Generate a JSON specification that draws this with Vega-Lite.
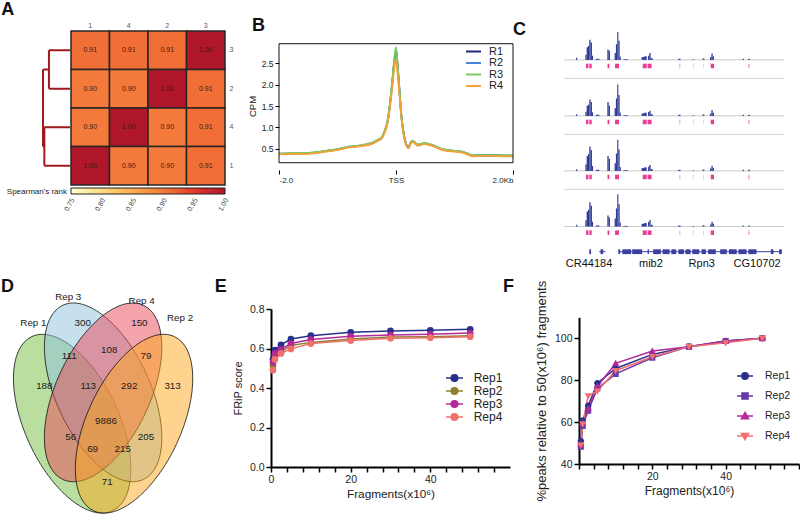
{
"$schema":"https://vega.github.io/schema/vega-lite/v6.json",
"width":800,"height":514,"autosize":{"type":"none"},"padding":0,"background":"white",
"config":{"font":"Liberation Sans","view":{"stroke":null},"axis":{"grid":false,"labelFlush":false,"labelOverlap":false,"titleFontWeight":"normal"}},
"resolve":{"scale":{"x":"independent","y":"independent","color":"independent","fill":"independent","stroke":"independent","shape":"independent"},"axis":{"x":"independent","y":"independent"},"legend":{"color":"independent","fill":"independent","stroke":"independent","shape":"independent"}},
"datasets":{
"hm":[{"r":"3","c":"1","v":0.91},{"r":"3","c":"4","v":0.91},{"r":"3","c":"2","v":0.91},{"r":"3","c":"3","v":1.0},
{"r":"2","c":"1","v":0.90},{"r":"2","c":"4","v":0.90},{"r":"2","c":"2","v":1.0},{"r":"2","c":"3","v":0.91},
{"r":"4","c":"1","v":0.90},{"r":"4","c":"4","v":1.0},{"r":"4","c":"2","v":0.90},{"r":"4","c":"3","v":0.91},
{"r":"1","c":"1","v":1.0},{"r":"1","c":"4","v":0.90},{"r":"1","c":"2","v":0.90},{"r":"1","c":"3","v":0.91}],
"cbticks":[{"t":0.75},{"t":0.8},{"t":0.85},{"t":0.9},{"t":0.95},{"t":1.0}],
"dendro":[{"x1":0,"x2":0.78,"y1":0,"y2":0},{"x1":0,"x2":0.78,"y1":1,"y2":1},{"x1":0.78,"x2":0.78,"y1":0,"y2":1},
{"x1":0,"x2":0.95,"y1":2,"y2":2},{"x1":0,"x2":0.95,"y1":3,"y2":3},{"x1":0.95,"x2":0.95,"y1":2,"y2":3},
{"x1":0.78,"x2":1,"y1":0.5,"y2":0.5},{"x1":0.95,"x2":1,"y1":2.5,"y2":2.5},{"x1":1,"x2":1,"y1":0.5,"y2":2.5}],
"prof":[
{"pos":-2000,"R1":0.38,"R2":0.385,"R3":0.39,"R4":0.37},
{"pos":-1900,"R1":0.38,"R2":0.385,"R3":0.39,"R4":0.37},
{"pos":-1800,"R1":0.39,"R2":0.395,"R3":0.40,"R4":0.38},
{"pos":-1700,"R1":0.39,"R2":0.395,"R3":0.40,"R4":0.38},
{"pos":-1600,"R1":0.39,"R2":0.395,"R3":0.40,"R4":0.38},
{"pos":-1500,"R1":0.39,"R2":0.395,"R3":0.40,"R4":0.38},
{"pos":-1400,"R1":0.40,"R2":0.405,"R3":0.41,"R4":0.39},
{"pos":-1300,"R1":0.42,"R2":0.425,"R3":0.43,"R4":0.41},
{"pos":-1200,"R1":0.44,"R2":0.445,"R3":0.45,"R4":0.43},
{"pos":-1100,"R1":0.46,"R2":0.465,"R3":0.47,"R4":0.45},
{"pos":-1000,"R1":0.48,"R2":0.485,"R3":0.49,"R4":0.47},
{"pos":-900,"R1":0.51,"R2":0.515,"R3":0.52,"R4":0.50},
{"pos":-800,"R1":0.54,"R2":0.545,"R3":0.55,"R4":0.53},
{"pos":-700,"R1":0.55,"R2":0.555,"R3":0.56,"R4":0.54},
{"pos":-600,"R1":0.57,"R2":0.575,"R3":0.58,"R4":0.56},
{"pos":-500,"R1":0.59,"R2":0.595,"R3":0.61,"R4":0.58},
{"pos":-400,"R1":0.63,"R2":0.635,"R3":0.65,"R4":0.62},
{"pos":-300,"R1":0.70,"R2":0.705,"R3":0.72,"R4":0.69},
{"pos":-250,"R1":0.74,"R2":0.745,"R3":0.76,"R4":0.73},
{"pos":-200,"R1":0.88,"R2":0.885,"R3":0.90,"R4":0.86},
{"pos":-150,"R1":1.10,"R2":1.10,"R3":1.12,"R4":1.07},
{"pos":-120,"R1":1.35,"R2":1.35,"R3":1.38,"R4":1.30},
{"pos":-90,"R1":1.70,"R2":1.70,"R3":1.74,"R4":1.62},
{"pos":-60,"R1":2.10,"R2":2.09,"R3":2.15,"R4":1.98},
{"pos":-30,"R1":2.55,"R2":2.53,"R3":2.60,"R4":2.38},
{"pos":0,"R1":2.83,"R2":2.80,"R3":2.88,"R4":2.60},
{"pos":30,"R1":2.40,"R2":2.38,"R3":2.44,"R4":2.22},
{"pos":60,"R1":1.85,"R2":1.84,"R3":1.88,"R4":1.75},
{"pos":90,"R1":1.30,"R2":1.30,"R3":1.32,"R4":1.25},
{"pos":120,"R1":0.95,"R2":0.95,"R3":0.96,"R4":0.92},
{"pos":150,"R1":0.72,"R2":0.72,"R3":0.73,"R4":0.70},
{"pos":180,"R1":0.58,"R2":0.585,"R3":0.59,"R4":0.57},
{"pos":210,"R1":0.52,"R2":0.525,"R3":0.53,"R4":0.51},
{"pos":240,"R1":0.60,"R2":0.605,"R3":0.61,"R4":0.59},
{"pos":270,"R1":0.67,"R2":0.675,"R3":0.69,"R4":0.66},
{"pos":300,"R1":0.66,"R2":0.665,"R3":0.68,"R4":0.65},
{"pos":340,"R1":0.61,"R2":0.615,"R3":0.63,"R4":0.60},
{"pos":380,"R1":0.58,"R2":0.585,"R3":0.60,"R4":0.57},
{"pos":430,"R1":0.60,"R2":0.605,"R3":0.62,"R4":0.59},
{"pos":490,"R1":0.62,"R2":0.625,"R3":0.64,"R4":0.61},
{"pos":550,"R1":0.60,"R2":0.605,"R3":0.62,"R4":0.59},
{"pos":640,"R1":0.57,"R2":0.575,"R3":0.58,"R4":0.56},
{"pos":750,"R1":0.50,"R2":0.51,"R3":0.51,"R4":0.49},
{"pos":870,"R1":0.46,"R2":0.47,"R3":0.47,"R4":0.45},
{"pos":1000,"R1":0.44,"R2":0.45,"R3":0.45,"R4":0.43},
{"pos":1090,"R1":0.43,"R2":0.44,"R3":0.44,"R4":0.42},
{"pos":1200,"R1":0.39,"R2":0.40,"R3":0.40,"R4":0.38},
{"pos":1320,"R1":0.33,"R2":0.345,"R3":0.34,"R4":0.32},
{"pos":1450,"R1":0.34,"R2":0.355,"R3":0.35,"R4":0.33},
{"pos":1550,"R1":0.34,"R2":0.355,"R3":0.35,"R4":0.33},
{"pos":1700,"R1":0.34,"R2":0.355,"R3":0.35,"R4":0.33},
{"pos":1850,"R1":0.33,"R2":0.345,"R3":0.34,"R4":0.32},
{"pos":2000,"R1":0.33,"R2":0.345,"R3":0.34,"R4":0.32}],
"cov":[
{"t":1,"s":5.5,"e":6.0,"v":0.06},{"t":1,"s":9.7,"e":10.3,"v":0.15},{"t":1,"s":10.3,"e":10.9,"v":0.36},{"t":1,"s":10.9,"e":11.5,"v":0.40},{"t":1,"s":11.5,"e":12.1,"v":0.58},{"t":1,"s":12.1,"e":12.7,"v":0.50},{"t":1,"s":12.7,"e":13.2,"v":0.12},{"t":1,"s":14.5,"e":16.1,"v":0.03},{"t":1,"s":19.7,"e":20.3,"v":0.30},{"t":1,"s":20.3,"e":20.9,"v":0.26},{"t":1,"s":23.0,"e":23.6,"v":0.20},{"t":1,"s":23.6,"e":24.2,"v":0.45},{"t":1,"s":24.2,"e":24.7,"v":0.80},{"t":1,"s":24.7,"e":25.3,"v":0.55},{"t":1,"s":25.3,"e":25.8,"v":0.10},{"t":1,"s":27.0,"e":29.0,"v":0.02},{"t":1,"s":35.3,"e":36.4,"v":0.08},{"t":1,"s":36.4,"e":37.6,"v":0.10},{"t":1,"s":38.2,"e":38.8,"v":0.12},{"t":1,"s":38.8,"e":39.4,"v":0.20},{"t":1,"s":39.4,"e":40.3,"v":0.05},{"t":1,"s":51.8,"e":53.0,"v":0.03},{"t":1,"s":58.5,"e":59.1,"v":0.02},{"t":1,"s":63.0,"e":63.8,"v":0.04},{"t":1,"s":66.4,"e":67.0,"v":0.08},{"t":1,"s":67.0,"e":67.6,"v":0.18},{"t":1,"s":67.6,"e":68.2,"v":0.10},{"t":1,"s":81.2,"e":81.8,"v":0.03},{"t":1,"s":83.8,"e":84.5,"v":0.03},
{"t":2,"s":5.5,"e":6.0,"v":0.05},{"t":2,"s":9.7,"e":10.3,"v":0.12},{"t":2,"s":10.3,"e":10.9,"v":0.29},{"t":2,"s":10.9,"e":11.5,"v":0.32},{"t":2,"s":11.5,"e":12.1,"v":0.47},{"t":2,"s":12.1,"e":12.7,"v":0.40},{"t":2,"s":12.7,"e":13.2,"v":0.10},{"t":2,"s":14.5,"e":16.1,"v":0.03},{"t":2,"s":19.7,"e":20.3,"v":0.40},{"t":2,"s":20.3,"e":20.9,"v":0.30},{"t":2,"s":23.0,"e":23.6,"v":0.22},{"t":2,"s":23.6,"e":24.2,"v":0.50},{"t":2,"s":24.2,"e":24.7,"v":0.90},{"t":2,"s":24.7,"e":25.3,"v":0.60},{"t":2,"s":25.3,"e":25.8,"v":0.10},{"t":2,"s":27.0,"e":29.0,"v":0.02},{"t":2,"s":35.3,"e":36.4,"v":0.07},{"t":2,"s":36.4,"e":37.6,"v":0.09},{"t":2,"s":38.2,"e":38.8,"v":0.11},{"t":2,"s":38.8,"e":39.4,"v":0.15},{"t":2,"s":39.4,"e":40.3,"v":0.05},{"t":2,"s":51.8,"e":53.0,"v":0.03},{"t":2,"s":58.5,"e":59.1,"v":0.02},{"t":2,"s":63.0,"e":63.8,"v":0.04},{"t":2,"s":66.4,"e":67.0,"v":0.07},{"t":2,"s":67.0,"e":67.6,"v":0.17},{"t":2,"s":67.6,"e":68.2,"v":0.09},{"t":2,"s":81.2,"e":81.8,"v":0.03},{"t":2,"s":83.8,"e":84.5,"v":0.03},
{"t":3,"s":5.5,"e":6.0,"v":0.05},{"t":3,"s":9.7,"e":10.3,"v":0.18},{"t":3,"s":10.3,"e":10.9,"v":0.43},{"t":3,"s":10.9,"e":11.5,"v":0.48},{"t":3,"s":11.5,"e":12.1,"v":0.70},{"t":3,"s":12.1,"e":12.7,"v":0.60},{"t":3,"s":12.7,"e":13.2,"v":0.14},{"t":3,"s":14.5,"e":16.1,"v":0.03},{"t":3,"s":19.7,"e":20.3,"v":0.43},{"t":3,"s":20.3,"e":20.9,"v":0.35},{"t":3,"s":23.0,"e":23.6,"v":0.22},{"t":3,"s":23.6,"e":24.2,"v":0.50},{"t":3,"s":24.2,"e":24.7,"v":0.89},{"t":3,"s":24.7,"e":25.3,"v":0.61},{"t":3,"s":25.3,"e":25.8,"v":0.11},{"t":3,"s":27.0,"e":29.0,"v":0.02},{"t":3,"s":35.3,"e":36.4,"v":0.08},{"t":3,"s":36.4,"e":37.6,"v":0.10},{"t":3,"s":38.2,"e":38.8,"v":0.12},{"t":3,"s":38.8,"e":39.4,"v":0.17},{"t":3,"s":39.4,"e":40.3,"v":0.05},{"t":3,"s":51.8,"e":53.0,"v":0.03},{"t":3,"s":58.5,"e":59.1,"v":0.02},{"t":3,"s":63.0,"e":63.8,"v":0.04},{"t":3,"s":66.4,"e":67.0,"v":0.07},{"t":3,"s":67.0,"e":67.6,"v":0.15},{"t":3,"s":67.6,"e":68.2,"v":0.08},{"t":3,"s":81.2,"e":81.8,"v":0.03},{"t":3,"s":83.8,"e":84.5,"v":0.03},
{"t":4,"s":5.5,"e":6.0,"v":0.05},{"t":4,"s":9.7,"e":10.3,"v":0.18},{"t":4,"s":10.3,"e":10.9,"v":0.43},{"t":4,"s":10.9,"e":11.5,"v":0.48},{"t":4,"s":11.5,"e":12.1,"v":0.70},{"t":4,"s":12.1,"e":12.7,"v":0.60},{"t":4,"s":12.7,"e":13.2,"v":0.14},{"t":4,"s":14.5,"e":16.1,"v":0.03},{"t":4,"s":19.7,"e":20.3,"v":0.32},{"t":4,"s":20.3,"e":20.9,"v":0.26},{"t":4,"s":23.0,"e":23.6,"v":0.23},{"t":4,"s":23.6,"e":24.2,"v":0.52},{"t":4,"s":24.2,"e":24.7,"v":0.93},{"t":4,"s":24.7,"e":25.3,"v":0.64},{"t":4,"s":25.3,"e":25.8,"v":0.12},{"t":4,"s":27.0,"e":29.0,"v":0.02},{"t":4,"s":35.3,"e":36.4,"v":0.08},{"t":4,"s":36.4,"e":37.6,"v":0.10},{"t":4,"s":38.2,"e":38.8,"v":0.13},{"t":4,"s":38.8,"e":39.4,"v":0.19},{"t":4,"s":39.4,"e":40.3,"v":0.05},{"t":4,"s":51.8,"e":53.0,"v":0.03},{"t":4,"s":58.5,"e":59.1,"v":0.02},{"t":4,"s":63.0,"e":63.8,"v":0.04},{"t":4,"s":66.4,"e":67.0,"v":0.06},{"t":4,"s":67.0,"e":67.6,"v":0.14},{"t":4,"s":67.6,"e":68.2,"v":0.08},{"t":4,"s":81.2,"e":81.8,"v":0.03},{"t":4,"s":83.8,"e":84.5,"v":0.03}],
"peaks":[{"s":10.0,"e":11.1,"k":"s"},{"s":11.5,"e":12.6,"k":"s"},{"s":19.8,"e":20.6,"k":"s"},{"s":23.2,"e":25.0,"k":"s"},{"s":35.8,"e":37.6,"k":"s"},{"s":38.0,"e":39.8,"k":"s"},{"s":52.4,"e":52.9,"k":"w"},{"s":58.6,"e":58.9,"k":"w"},{"s":63.2,"e":63.5,"k":"w"},{"s":66.7,"e":68.2,"k":"s"},{"s":83.6,"e":84.4,"k":"w"}],
"exons":[{"s":11.5,"e":12.3},{"s":16.6,"e":17.8},{"s":24.7,"e":25.5},{"s":26.5,"e":30.5},{"s":31,"e":35.5},{"s":38,"e":38.6},{"s":40.5,"e":44},{"s":44.8,"e":48},{"s":48.8,"e":51},{"s":52,"e":54.5},{"s":55.2,"e":57.5},{"s":58.3,"e":61.5},{"s":62.5,"e":64.5},{"s":65.5,"e":69},{"s":71,"e":74},{"s":75,"e":78.5},{"s":79.3,"e":83},{"s":83.8,"e":87.5},{"s":94,"e":95.2},{"s":97.8,"e":99}],
"introns":[{"s":16.0,"e":18.8},{"s":24.7,"e":99}],
"genes":[{"g":"CR44184","p":11.4},{"g":"mib2","p":39.5},{"g":"Rpn3","p":62.6},{"g":"CG10702","p":87.8}],
"venn":[{"set":"Rep 1","cx":0.35,"cy":0.47},{"set":"Rep 3","cx":0.5,"cy":0.57},{"set":"Rep 4","cx":0.5,"cy":0.57},{"set":"Rep 2","cx":0.65,"cy":0.47}],
"vlab":[{"t":"Rep 1","u":0.162,"v":0.792},{"t":"Rep 3","u":0.331,"v":0.875},{"t":"Rep 4","u":0.687,"v":0.862},{"t":"Rep 2","u":0.873,"v":0.806},
{"t":"300","u":0.401,"v":0.790},{"t":"150","u":0.676,"v":0.790},{"t":"111","u":0.336,"v":0.687},{"t":"108","u":0.530,"v":0.705},{"t":"79","u":0.708,"v":0.687},
{"t":"188","u":0.215,"v":0.590},{"t":"113","u":0.428,"v":0.590},{"t":"292","u":0.627,"v":0.590},{"t":"313","u":0.837,"v":0.590},
{"t":"9886","u":0.514,"v":0.480},{"t":"56","u":0.343,"v":0.429},{"t":"205","u":0.708,"v":0.429},{"t":"69","u":0.449,"v":0.388},{"t":"215","u":0.595,"v":0.388},{"t":"71","u":0.520,"v":0.285}],
"frip":[
{"rep":"Rep1","x":0.5,"v":0.545},{"rep":"Rep1","x":1,"v":0.592},{"rep":"Rep1","x":2.5,"v":0.618},{"rep":"Rep1","x":5,"v":0.648},{"rep":"Rep1","x":10,"v":0.665},{"rep":"Rep1","x":20,"v":0.682},{"rep":"Rep1","x":30,"v":0.689},{"rep":"Rep1","x":40,"v":0.692},{"rep":"Rep1","x":50,"v":0.697},
{"rep":"Rep2","x":0.5,"v":0.513},{"rep":"Rep2","x":1,"v":0.565},{"rep":"Rep2","x":2.5,"v":0.584},{"rep":"Rep2","x":5,"v":0.615},{"rep":"Rep2","x":10,"v":0.631},{"rep":"Rep2","x":20,"v":0.648},{"rep":"Rep2","x":30,"v":0.658},{"rep":"Rep2","x":40,"v":0.660},{"rep":"Rep2","x":50,"v":0.665},
{"rep":"Rep3","x":0.5,"v":0.530},{"rep":"Rep3","x":1,"v":0.575},{"rep":"Rep3","x":2.5,"v":0.595},{"rep":"Rep3","x":5,"v":0.625},{"rep":"Rep3","x":10,"v":0.645},{"rep":"Rep3","x":20,"v":0.662},{"rep":"Rep3","x":30,"v":0.668},{"rep":"Rep3","x":40,"v":0.672},{"rep":"Rep3","x":50,"v":0.678},
{"rep":"Rep4","x":0.5,"v":0.490},{"rep":"Rep4","x":1,"v":0.545},{"rep":"Rep4","x":2.5,"v":0.575},{"rep":"Rep4","x":5,"v":0.598},{"rep":"Rep4","x":10,"v":0.625},{"rep":"Rep4","x":20,"v":0.640},{"rep":"Rep4","x":30,"v":0.652},{"rep":"Rep4","x":40,"v":0.655},{"rep":"Rep4","x":50,"v":0.660}],
"pk":[
{"rep":"Rep1","x":0.5,"v":51.0},{"rep":"Rep1","x":1,"v":60.8},{"rep":"Rep1","x":2.5,"v":67.8},{"rep":"Rep1","x":5,"v":78.6},{"rep":"Rep1","x":10,"v":85.6},{"rep":"Rep1","x":20,"v":92.3},{"rep":"Rep1","x":30,"v":96.0},{"rep":"Rep1","x":40,"v":98.7},{"rep":"Rep1","x":50,"v":100},
{"rep":"Rep2","x":0.5,"v":48.3},{"rep":"Rep2","x":1,"v":58.2},{"rep":"Rep2","x":2.5,"v":65.4},{"rep":"Rep2","x":5,"v":76.0},{"rep":"Rep2","x":10,"v":83.0},{"rep":"Rep2","x":20,"v":90.7},{"rep":"Rep2","x":30,"v":96.0},{"rep":"Rep2","x":40,"v":98.7},{"rep":"Rep2","x":50,"v":100},
{"rep":"Rep3","x":0.5,"v":49.5},{"rep":"Rep3","x":1,"v":59.5},{"rep":"Rep3","x":2.5,"v":66.5},{"rep":"Rep3","x":5,"v":77.0},{"rep":"Rep3","x":10,"v":88.0},{"rep":"Rep3","x":20,"v":93.9},{"rep":"Rep3","x":30,"v":96.0},{"rep":"Rep3","x":40,"v":98.5},{"rep":"Rep3","x":50,"v":100},
{"rep":"Rep4","x":0.5,"v":49.0},{"rep":"Rep4","x":1,"v":59.0},{"rep":"Rep4","x":2.5,"v":72.5},{"rep":"Rep4","x":5,"v":74.8},{"rep":"Rep4","x":10,"v":84.5},{"rep":"Rep4","x":20,"v":91.2},{"rep":"Rep4","x":30,"v":96.0},{"rep":"Rep4","x":40,"v":97.8},{"rep":"Rep4","x":50,"v":100}]
},
"layer":[
{"data":{"name":"hm"},"layer":[
 {"mark":{"type":"rect","stroke":"#262626","strokeWidth":1.5},
  "encoding":{
   "x":{"field":"c","type":"ordinal","scale":{"type":"band","domain":["1","4","2","3"],"range":[71,225],"paddingInner":0,"paddingOuter":0},"axis":{"orient":"top","offset":-31,"title":null,"ticks":false,"domain":false,"labelAngle":0,"labelFontSize":7,"labelColor":"#555","labelPadding":3}},
   "y":{"field":"r","type":"ordinal","scale":{"type":"band","domain":["3","2","4","1"],"range":[31,185],"paddingInner":0,"paddingOuter":0},"axis":{"orient":"right","offset":-575,"title":null,"ticks":false,"domain":false,"labelAngle":0,"labelFontSize":7,"labelColor":"#555","labelPadding":4}},
   "color":{"field":"v","type":"quantitative","scale":{"domain":[0.75,0.8,0.85,0.9,0.95,1.0],"range":["#ffffcc","#fedc82","#fdab4c","#f47a3b","#e4332a","#b0172a"]},
     "legend":{"orient":"none","legendX":71,"legendY":188,"direction":"horizontal","title":null,"gradientLength":154,"gradientThickness":6,"gradientStrokeColor":"#222","gradientStrokeWidth":1,"values":[0.75,0.8,0.85,0.9,0.95,1.0],"labelOpacity":0,"labelFontSize":7,"padding":0}}
  }},
 {"mark":{"type":"text","fontSize":7,"color":"#3a1c10"},
  "encoding":{"x":{"field":"c","type":"ordinal"},"y":{"field":"r","type":"ordinal"},"text":{"field":"v","type":"quantitative","format":".2f"}}}
]},
{"data":{"name":"cbticks"},"mark":{"type":"text","fontSize":7,"color":"#444","angle":-60,"align":"right","baseline":"middle"},
 "encoding":{"x":{"field":"t","type":"quantitative","scale":{"domain":[0.75,1],"range":[73,227]},"axis":null},"y":{"datum":0,"type":"quantitative","scale":{"domain":[0,1],"range":[199,189]},"axis":null},"text":{"field":"t","type":"quantitative","format":".2f"}}},
{"layer":[
 {"data":{"name":"dendro"},"mark":{"type":"rule","color":"#a0191d","strokeWidth":2},
  "encoding":{"x":{"field":"x1","type":"quantitative","scale":{"domain":[0,1],"range":[70,43]},"axis":null},"x2":{"field":"x2"},
   "y":{"field":"y1","type":"quantitative","scale":{"domain":[-0.5,3.5],"range":[31,185]},"axis":null},"y2":{"field":"y2"}}},
 {"data":{"values":[{"t":"A"}]},"mark":{"type":"text","fontSize":18,"fontWeight":"bold","align":"left","baseline":"alphabetic","color":"#111"},
  "encoding":{"x":{"datum":2.55,"type":"quantitative"},"y":{"datum":-0.916,"type":"quantitative"},"text":{"field":"t"}}},
 {"data":{"values":[{"t":"Spearman's rank"}]},"mark":{"type":"text","fontSize":8,"align":"right","baseline":"middle","color":"#222"},
  "encoding":{"x":{"datum":0.11,"type":"quantitative"},"y":{"datum":3.67,"type":"quantitative"},"text":{"field":"t"}}}
]},
{"layer":[
 {"data":{"name":"prof"},"transform":[{"fold":["R1","R2","R3","R4"],"as":["rep","cpm"]}],
  "mark":{"type":"line","strokeWidth":1.8,"interpolate":"monotone"},
  "encoding":{
   "x":{"field":"pos","type":"quantitative","scale":{"domain":[-2000,2000],"range":[279,513]},"axis":{"orient":"bottom","offset":-344,"values":[-2000,0,2000],"labelExpr":"datum.value == 0 ? 'TSS' : (datum.value < 0 ? '-2.0' : '2.0Kb')","labelFlush":true,"title":null,"tickSize":4,"tickColor":"#000","labelFontSize":8,"labelColor":"#222","domain":false}},
   "y":{"field":"cpm","type":"quantitative","scale":{"domain":[0.17,2.96],"range":[170,42]},"axis":{"orient":"left","offset":-279,"values":[0.5,1,1.5,2,2.5],"format":".1f","title":"CPM","titleFontSize":9.5,"titleColor":"#222","titlePadding":4,"tickSize":4,"tickColor":"#000","labelFontSize":8.5,"labelColor":"#222","domain":false}},
   "color":{"field":"rep","type":"nominal","scale":{"domain":["R1","R2","R3","R4"],"range":["#1c2a7e","#4a86d0","#7fc865","#f6a232"]},
     "legend":{"orient":"none","legendX":465,"legendY":47,"title":null,"symbolType":"stroke","symbolStrokeWidth":2,"symbolSize":225,"labelFontSize":11,"labelColor":"#222","clipHeight":9,"rowPadding":-0.5,"padding":0,"labelOffset":7}}
  }},
 {"data":{"values":[{}]},"mark":{"type":"rect","fill":"transparent","stroke":"#111","strokeWidth":1},
  "encoding":{"x":{"datum":-2000,"type":"quantitative"},"x2":{"datum":2000},"y":{"datum":0.17,"type":"quantitative"},"y2":{"datum":2.96}}},
 {"data":{"values":[{"t":"B"}]},"mark":{"type":"text","fontSize":18,"fontWeight":"bold","align":"left","baseline":"alphabetic","color":"#111"},
  "encoding":{"x":{"datum":-2461,"type":"quantitative"},"y":{"datum":3.259,"type":"quantitative"},"text":{"field":"t"}}}
]},
{"layer":[
 {"data":{"values":[{}]},"mark":{"type":"rule","color":"#c8c8c8","strokeWidth":1},
  "encoding":{"x":{"datum":0,"type":"quantitative","scale":{"domain":[0,100],"range":[564,784]},"axis":null},"x2":{"datum":100},"y":{"datum":0,"type":"quantitative","scale":{"domain":[-0.55,1],"range":[80.8,25]},"axis":null}}},
 {"data":{"values":[{}]},"mark":{"type":"rule","color":"#d4d4d4","strokeWidth":1},
  "encoding":{"x":{"datum":0,"type":"quantitative"},"x2":{"datum":100},"y":{"datum":-0.53,"type":"quantitative"}}},
 {"data":{"name":"cov"},"transform":[{"filter":"datum.t == 1"}],"mark":{"type":"rect","color":"#2e3a96"},
  "encoding":{"x":{"field":"s","type":"quantitative"},"x2":{"field":"e"},"y":{"field":"v","type":"quantitative"},"y2":{"datum":0}}},
 {"data":{"name":"peaks"},"mark":{"type":"rect"},
  "encoding":{"x":{"field":"s","type":"quantitative"},"x2":{"field":"e"},"y":{"datum":-0.11,"type":"quantitative"},"y2":{"datum":-0.24},"color":{"field":"k","type":"nominal","scale":{"domain":["s","w"],"range":["#ec3b90","#f6aecd"]},"legend":null}}},
 {"data":{"values":[{"t":"C"}]},"mark":{"type":"text","fontSize":18,"fontWeight":"bold","align":"left","baseline":"alphabetic","color":"#111"},
  "encoding":{"x":{"datum":-23.2,"type":"quantitative"},"y":{"datum":0.722,"type":"quantitative"},"text":{"field":"t"}}}
]},
{"layer":[
 {"data":{"values":[{}]},"mark":{"type":"rule","color":"#c8c8c8","strokeWidth":1},
  "encoding":{"x":{"datum":0,"type":"quantitative","scale":{"domain":[0,100],"range":[564,784]},"axis":null},"x2":{"datum":100},"y":{"datum":0,"type":"quantitative","scale":{"domain":[-0.55,1],"range":[136.8,81]},"axis":null}}},
 {"data":{"values":[{}]},"mark":{"type":"rule","color":"#d4d4d4","strokeWidth":1},
  "encoding":{"x":{"datum":0,"type":"quantitative"},"x2":{"datum":100},"y":{"datum":-0.53,"type":"quantitative"}}},
 {"data":{"name":"cov"},"transform":[{"filter":"datum.t == 2"}],"mark":{"type":"rect","color":"#2e3a96"},
  "encoding":{"x":{"field":"s","type":"quantitative"},"x2":{"field":"e"},"y":{"field":"v","type":"quantitative"},"y2":{"datum":0}}},
 {"data":{"name":"peaks"},"mark":{"type":"rect"},
  "encoding":{"x":{"field":"s","type":"quantitative"},"x2":{"field":"e"},"y":{"datum":-0.11,"type":"quantitative"},"y2":{"datum":-0.24},"color":{"field":"k","type":"nominal","scale":{"domain":["s","w"],"range":["#ec3b90","#f6aecd"]},"legend":null}}}
]},
{"layer":[
 {"data":{"values":[{}]},"mark":{"type":"rule","color":"#c8c8c8","strokeWidth":1},
  "encoding":{"x":{"datum":0,"type":"quantitative","scale":{"domain":[0,100],"range":[564,784]},"axis":null},"x2":{"datum":100},"y":{"datum":0,"type":"quantitative","scale":{"domain":[-0.55,1],"range":[191.8,136]},"axis":null}}},
 {"data":{"values":[{}]},"mark":{"type":"rule","color":"#d4d4d4","strokeWidth":1},
  "encoding":{"x":{"datum":0,"type":"quantitative"},"x2":{"datum":100},"y":{"datum":-0.53,"type":"quantitative"}}},
 {"data":{"name":"cov"},"transform":[{"filter":"datum.t == 3"}],"mark":{"type":"rect","color":"#2e3a96"},
  "encoding":{"x":{"field":"s","type":"quantitative"},"x2":{"field":"e"},"y":{"field":"v","type":"quantitative"},"y2":{"datum":0}}},
 {"data":{"name":"peaks"},"mark":{"type":"rect"},
  "encoding":{"x":{"field":"s","type":"quantitative"},"x2":{"field":"e"},"y":{"datum":-0.11,"type":"quantitative"},"y2":{"datum":-0.24},"color":{"field":"k","type":"nominal","scale":{"domain":["s","w"],"range":["#ec3b90","#f6aecd"]},"legend":null}}}
]},
{"layer":[
 {"data":{"values":[{}]},"mark":{"type":"rule","color":"#c8c8c8","strokeWidth":1},
  "encoding":{"x":{"datum":0,"type":"quantitative","scale":{"domain":[0,100],"range":[564,784]},"axis":null},"x2":{"datum":100},"y":{"datum":0,"type":"quantitative","scale":{"domain":[-0.55,1],"range":[247.5,191.7]},"axis":null}}},
 {"data":{"name":"cov"},"transform":[{"filter":"datum.t == 4"}],"mark":{"type":"rect","color":"#2e3a96"},
  "encoding":{"x":{"field":"s","type":"quantitative"},"x2":{"field":"e"},"y":{"field":"v","type":"quantitative"},"y2":{"datum":0}}},
 {"data":{"name":"peaks"},"mark":{"type":"rect"},
  "encoding":{"x":{"field":"s","type":"quantitative"},"x2":{"field":"e"},"y":{"datum":-0.11,"type":"quantitative"},"y2":{"datum":-0.24},"color":{"field":"k","type":"nominal","scale":{"domain":["s","w"],"range":["#ec3b90","#f6aecd"]},"legend":null}}}
]},
{"layer":[
 {"data":{"name":"introns"},"mark":{"type":"rule","color":"#3a3fa0","strokeWidth":1},
  "encoding":{"x":{"field":"s","type":"quantitative","scale":{"domain":[0,100],"range":[564,784]},"axis":null},"x2":{"field":"e"},"y":{"datum":0,"type":"quantitative","scale":{"domain":[-2,1],"range":[266.7,244.2]},"axis":null}}},
 {"data":{"name":"exons"},"mark":{"type":"rect","color":"#3a3fa0"},
  "encoding":{"x":{"field":"s","type":"quantitative"},"x2":{"field":"e"},"y":{"datum":0.32,"type":"quantitative"},"y2":{"datum":-0.32}}},
 {"data":{"name":"genes"},"mark":{"type":"text","fontSize":11,"baseline":"alphabetic","align":"center","color":"#111"},
  "encoding":{"x":{"field":"p","type":"quantitative"},"y":{"datum":-2,"type":"quantitative"},"text":{"field":"g"}}}
]},
{"layer":[
 {"data":{"name":"venn"},"transform":[{"filter":"datum.set == 'Rep 1' || datum.set == 'Rep 3'"}],
  "mark":{"type":"point","shape":"M 40.27 87.15 A 96 47.1 65.2 1 1 -40.27 -87.15 A 96 47.1 65.2 1 1 40.27 87.15 Z","size":4,"filled":true,"opacity":1,"fillOpacity":0.5,"stroke":"#111","strokeWidth":0.8,"strokeOpacity":1},
  "encoding":{"x":{"field":"cx","type":"quantitative","scale":{"domain":[0,1],"range":[0,206.2]},"axis":null},"y":{"field":"cy","type":"quantitative","scale":{"domain":[0,1],"range":[571,257.6]},"axis":null},
   "color":{"field":"set","type":"nominal","scale":{"domain":["Rep 1","Rep 3","Rep 4","Rep 2"],"range":["#73bd41","#8dc1dd","#e94755","#fba71d"]},"legend":null}}},
 {"data":{"name":"venn"},"transform":[{"filter":"datum.set == 'Rep 4' || datum.set == 'Rep 2'"}],
  "mark":{"type":"point","shape":"M -40.27 87.15 A 96 47.1 -65.2 1 1 40.27 -87.15 A 96 47.1 -65.2 1 1 -40.27 87.15 Z","size":4,"filled":true,"opacity":1,"fillOpacity":0.5,"stroke":"#111","strokeWidth":0.8,"strokeOpacity":1},
  "encoding":{"x":{"field":"cx","type":"quantitative"},"y":{"field":"cy","type":"quantitative"},"color":{"field":"set","type":"nominal"}}},
 {"data":{"name":"vlab"},"mark":{"type":"text","fontSize":9.8,"color":"#1a1a1a"},
  "encoding":{"x":{"field":"u","type":"quantitative"},"y":{"field":"v","type":"quantitative"},"text":{"field":"t"}}},
 {"data":{"values":[{"t":"D"}]},"mark":{"type":"text","fontSize":18,"fontWeight":"bold","align":"left","baseline":"alphabetic","color":"#111"},
  "encoding":{"x":{"datum":0.005,"type":"quantitative"},"y":{"datum":0.89,"type":"quantitative"},"text":{"field":"t"}}}
]},
{"layer":[
 {"data":{"name":"frip"},"mark":{"type":"line","strokeWidth":1.5},
  "encoding":{
   "x":{"field":"x","type":"quantitative","scale":{"domain":[0,58.3],"range":[271,510]},"axis":{"orient":"bottom","offset":-47,"values":[0,2,4,6,8,10,12,14,16,18,20,22,24,26,28,30,32,34,36,38,40,42,44,46,48,50,52,54,56,58],"labelExpr":"datum.value % 10 == 0 ? datum.label : ''","title":"Fragments(x10⁶)","titleFontSize":11.8,"titleColor":"#222","titlePadding":4,"tickSize":5,"tickWidth":1.5,"tickColor":"#000","domainColor":"#000","domainWidth":2,"labelFontSize":10.5,"labelColor":"#222","labelPadding":2}},
   "y":{"field":"v","type":"quantitative","scale":{"domain":[0,0.8],"range":[467,309]},"axis":{"orient":"left","offset":-271,"values":[0,0.2,0.4,0.6,0.8],"format":".1f","title":"FRiP score","titleFontSize":11,"titleColor":"#222","titlePadding":6,"tickSize":5,"tickWidth":1.5,"tickColor":"#000","domainColor":"#000","domainWidth":2,"labelFontSize":10.5,"labelColor":"#222","labelPadding":2}},
   "stroke":{"field":"rep","type":"nominal","scale":{"domain":["Rep1","Rep2","Rep3","Rep4"],"range":["#27318b","#8c8032","#b5289a","#f0706a"]},
     "legend":{"orient":"none","legendX":445,"legendY":371.5,"title":null,"symbolType":"M -1 0 L 1 0 M 0.39 0 A 0.39 0.39 0 1 1 -0.39 0 A 0.39 0.39 0 1 1 0.39 0 Z","symbolStrokeWidth":1.5,"symbolSize":289,"symbolOpacity":1,"labelFontSize":12,"labelColor":"#222","clipHeight":13,"rowPadding":0,"padding":0,"labelOffset":9.7}}
  }},
 {"data":{"name":"frip"},"mark":{"type":"point","filled":true,"size":45,"opacity":1},
  "encoding":{"x":{"field":"x","type":"quantitative"},"y":{"field":"v","type":"quantitative"},
   "fill":{"field":"rep","type":"nominal","scale":{"domain":["Rep1","Rep2","Rep3","Rep4"],"range":["#27318b","#8c8032","#b5289a","#f0706a"]},
     "legend":{"orient":"none","legendX":445,"legendY":371.5,"title":null,"symbolType":"M -1 0 L 1 0 M 0.39 0 A 0.39 0.39 0 1 1 -0.39 0 A 0.39 0.39 0 1 1 0.39 0 Z","symbolStrokeWidth":1.5,"symbolSize":289,"symbolOpacity":1,"labelFontSize":12,"labelColor":"#222","clipHeight":13,"rowPadding":0,"padding":0,"labelOffset":9.7}}}},
 {"data":{"values":[{"t":"E"}]},"mark":{"type":"text","fontSize":18,"fontWeight":"bold","align":"left","baseline":"alphabetic","color":"#111"},
  "encoding":{"x":{"datum":-14.15,"type":"quantitative"},"y":{"datum":0.886,"type":"quantitative"},"text":{"field":"t"}}}
]},
{"layer":[
 {"data":{"name":"pk"},"mark":{"type":"line","strokeWidth":1.5},
  "encoding":{
   "x":{"field":"x","type":"quantitative","scale":{"domain":[0,60],"range":[579,799]},"axis":{"orient":"bottom","offset":-50,"values":[0,2,4,6,8,10,12,14,16,18,20,22,24,26,28,30,32,34,36,38,40,42,44,46,48,50,52,54,56,58,60],"labelExpr":"(datum.value % 10 == 0 && datum.value > 0 && datum.value <= 50) ? datum.label : ''","title":"Fragments(x10⁶)","titleFontSize":12,"titleColor":"#222","titlePadding":4,"tickSize":5,"tickWidth":1.5,"tickColor":"#000","domainColor":"#000","domainWidth":2,"labelFontSize":10.5,"labelColor":"#222","labelPadding":2}},
   "y":{"field":"v","type":"quantitative","scale":{"domain":[40,110],"range":[464,317.3]},"axis":{"orient":"left","offset":-579,"values":[40,60,80,100],"title":"%peaks relative to 50(x10⁶) fragments","titleFontSize":13,"titleColor":"#222","titlePadding":6,"tickSize":5,"tickWidth":1.5,"tickColor":"#000","domainColor":"#000","domainWidth":2,"labelFontSize":10.5,"labelColor":"#222","labelPadding":2}},
   "stroke":{"field":"rep","type":"nominal","scale":{"domain":["Rep1","Rep2","Rep3","Rep4"],"range":["#27318b","#6a3aa8","#b5289a","#f2706e"]},
     "legend":{"orient":"none","legendX":736,"legendY":366.4,"title":null,"symbolStrokeWidth":1.5,"symbolSize":256,"symbolOpacity":1,"labelFontSize":10.5,"labelColor":"#222","clipHeight":19.3,"rowPadding":0,"padding":0,"labelOffset":11}}
  }},
 {"data":{"name":"pk"},"mark":{"type":"point","filled":true,"size":256,"opacity":1,"strokeWidth":0},
  "encoding":{"x":{"field":"x","type":"quantitative"},"y":{"field":"v","type":"quantitative"},
   "fill":{"field":"rep","type":"nominal","scale":{"domain":["Rep1","Rep2","Rep3","Rep4"],"range":["#27318b","#6a3aa8","#b5289a","#f2706e"]},
     "legend":{"orient":"none","legendX":736,"legendY":366.4,"title":null,"symbolStrokeWidth":1.5,"symbolSize":256,"symbolOpacity":1,"labelFontSize":10.5,"labelColor":"#222","clipHeight":19.3,"rowPadding":0,"padding":0,"labelOffset":11}},
   "shape":{"field":"rep","type":"nominal","scale":{"domain":["Rep1","Rep2","Rep3","Rep4"],"range":["M -1 0 L 1 0 M 0.4 0 A 0.4 0.4 0 1 1 -0.4 0 A 0.4 0.4 0 1 1 0.4 0 Z","M -1 0 L 1 0 M -0.38 -0.38 L 0.38 -0.38 L 0.38 0.38 L -0.38 0.38 Z","M -1 0 L 1 0 M 0 -0.45 L 0.45 0.33 L -0.45 0.33 Z","M -1 0 L 1 0 M 0 0.45 L 0.45 -0.33 L -0.45 -0.33 Z"]},
     "legend":{"orient":"none","legendX":736,"legendY":366.4,"title":null,"symbolStrokeWidth":1.5,"symbolSize":256,"symbolOpacity":1,"labelFontSize":10.5,"labelColor":"#222","clipHeight":19.3,"rowPadding":0,"padding":0,"labelOffset":11}}}},
 {"data":{"values":[{"t":"F"}]},"mark":{"type":"text","fontSize":18,"fontWeight":"bold","align":"left","baseline":"alphabetic","color":"#111"},
  "encoding":{"x":{"datum":-20.7,"type":"quantitative"},"y":{"datum":122.1,"type":"quantitative"},"text":{"field":"t"}}}
]}
]
}
